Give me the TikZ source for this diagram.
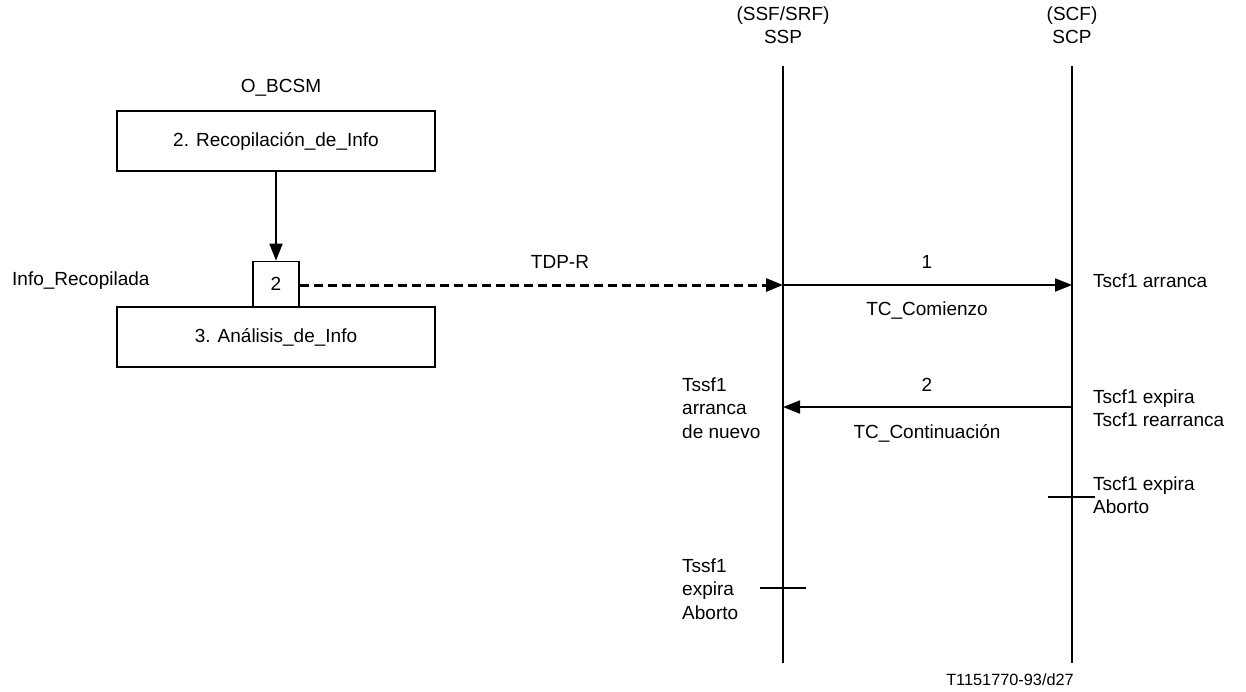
\documentclass[tikz,border=0pt]{standalone}
\usepackage{fontspec}
\setmainfont{Liberation Sans}
\usetikzlibrary{arrows.meta}
\begin{document}
\begin{tikzpicture}[x=1pt,y=-1pt,
  txt/.style={inner sep=0pt,font=\fontsize{19}{23.5}\selectfont},
  lbl/.style={txt,anchor=west,align=left},
  box/.style={draw,line width=1.3pt,minimum width=318pt,minimum height=60pt,inner sep=0pt,font=\fontsize{19}{23.5}\selectfont},
  smallbox/.style={draw,line width=1.3pt,minimum width=46pt,minimum height=45pt,inner sep=0pt,font=\fontsize{19}{23.5}\selectfont},
  life/.style={line width=1.8pt},
  msg/.style={line width=1.8pt,-{Triangle[length=17pt,width=13pt]}},
  tick/.style={line width=1.8pt}]
\useasboundingbox (0,0) rectangle (1246,691);
% left part
\node[txt] (obcsm) at (281,88) {O\_BCSM};
\node[box] (b1) at (276,141) {2. Recopilación\_de\_Info};
\node[box,minimum height=60pt] (b2) at (276,337) {3. Análisis\_de\_Info};
\node[smallbox,anchor=south] (pt) at (276,307) {2};
\node[txt,anchor=west] (info) at (12,281) {Info\_Recopilada};
\draw[msg] (b1.south) -- (pt.north);
% lifelines
\node[txt,align=center] (ssp) at (783,25) {(SSF/SRF)\\SSP};
\node[txt,align=center] (scp) at (1072,25) {(SCF)\\SCP};
\coordinate (sspT) at (783,66);
\coordinate (sspB) at (783,663);
\coordinate (scpT) at (1072,66);
\coordinate (scpB) at (1072,663);
\draw[life] (sspT) -- (sspB);
\draw[life] (scpT) -- (scpB);
% dashed TDP-R
\coordinate (ssp1) at (783,285);
\coordinate (scp1) at (1072,285);
\draw[line width=3pt,dash pattern=on 9pt off 5pt,-{Triangle[length=17pt,width=13pt]}] (pt.east |- ssp1) -- (ssp1);
\node[txt] (tdpr) at (560,262) {TDP-R};
% message 1
\draw[msg] (ssp1) -- (scp1);
\node[txt] (m1) at (927,262) {1};
\node[txt] (m1b) at (927,310) {TC\_Comienzo};
\node[lbl] (t1) at (1093,281) {Tscf1 arranca};
% message 2
\coordinate (ssp2) at (783,407);
\coordinate (scp2) at (1072,407);
\draw[msg] (scp2) -- (ssp2);
\node[txt] (m2) at (927,385) {2};
\node[txt] (m2b) at (927,433) {TC\_Continuación};
\node[lbl] (t2) at (1093,408) {Tscf1 expira\\Tscf1 rearranca};
\node[lbl] (t3) at (682,408) {Tssf1\\arranca\\de nuevo};
% ticks
\coordinate (k1a) at (1048,497);
\coordinate (k1b) at (1095,497);
\draw[tick] (k1a) -- (k1b);
\node[lbl] (t4) at (1093,495) {Tscf1 expira\\Aborto};
\coordinate (k2a) at (760,588);
\coordinate (k2b) at (806,588);
\draw[tick] (k2a) -- (k2b);
\node[lbl] (t5) at (682,589) {Tssf1\\expira\\Aborto};
\node[inner sep=0pt,font=\fontsize{16.3}{18}\selectfont] (ref) at (1010,680) {T1151770-93/d27};
\end{tikzpicture}
\end{document}
